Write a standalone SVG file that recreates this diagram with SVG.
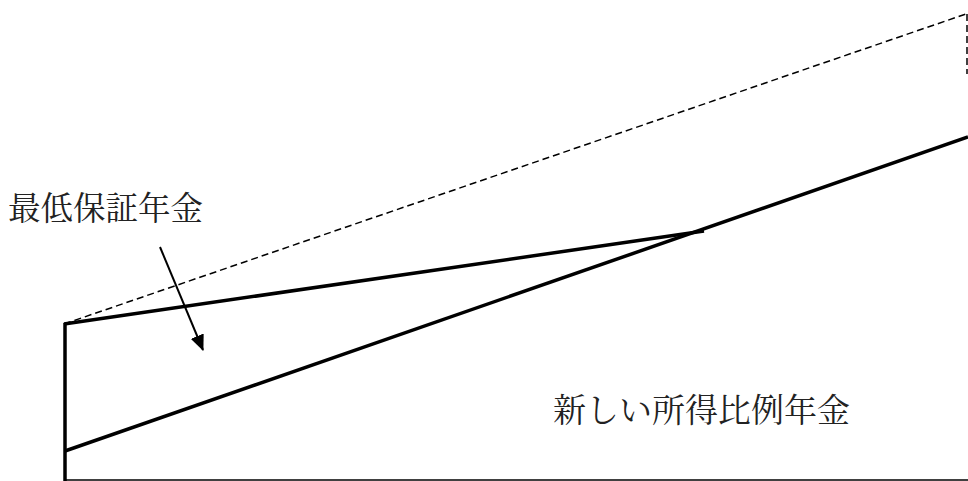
<svg xmlns="http://www.w3.org/2000/svg" width="968" height="481" viewBox="0 0 968 481">
<style>
.thick{stroke:#000;stroke-width:3.5;fill:none}
.thin{stroke:#000;stroke-width:1.5;fill:none}
.dash{stroke:#000;stroke-width:1.5;fill:none;stroke-dasharray:7,4}
.lbl{font-family:"Noto Serif CJK JP","Noto Sans CJK JP",sans-serif;fill:#222}
</style>
<defs>
<marker id="ah" markerWidth="16" markerHeight="14" refX="15" refY="7" orient="auto" markerUnits="userSpaceOnUse" viewBox="0 0 16 14">
<path d="M0,0 L16,7 L0,14 z" fill="#000"/>
</marker>
</defs>
<rect width="968" height="481" fill="#fff"/>
<g id="connectors">
<line class="dash" x1="64" y1="324" x2="966" y2="14"/>
<line class="dash" x1="967" y1="14" x2="967" y2="74"/>
<line class="thick" x1="65" y1="323" x2="65" y2="481"/>
<line class="thin" x1="65" y1="480" x2="968" y2="480"/>
<line class="thick" x1="64" y1="324" x2="704" y2="231"/>
<line class="thick" x1="65" y1="451" x2="968" y2="137"/>
<line class="thin" x1="160" y1="247" x2="203" y2="350" marker-end="url(#ah)" style="stroke-width:2"/>
</g>
<g id="label-minimum">
<text class="lbl" x="8" y="220" font-size="32.5">最低保証年金</text>
</g>
<g id="label-new">
<text class="lbl" x="553" y="422" font-size="33">新しい所得比例年金</text>
</g>
</svg>
